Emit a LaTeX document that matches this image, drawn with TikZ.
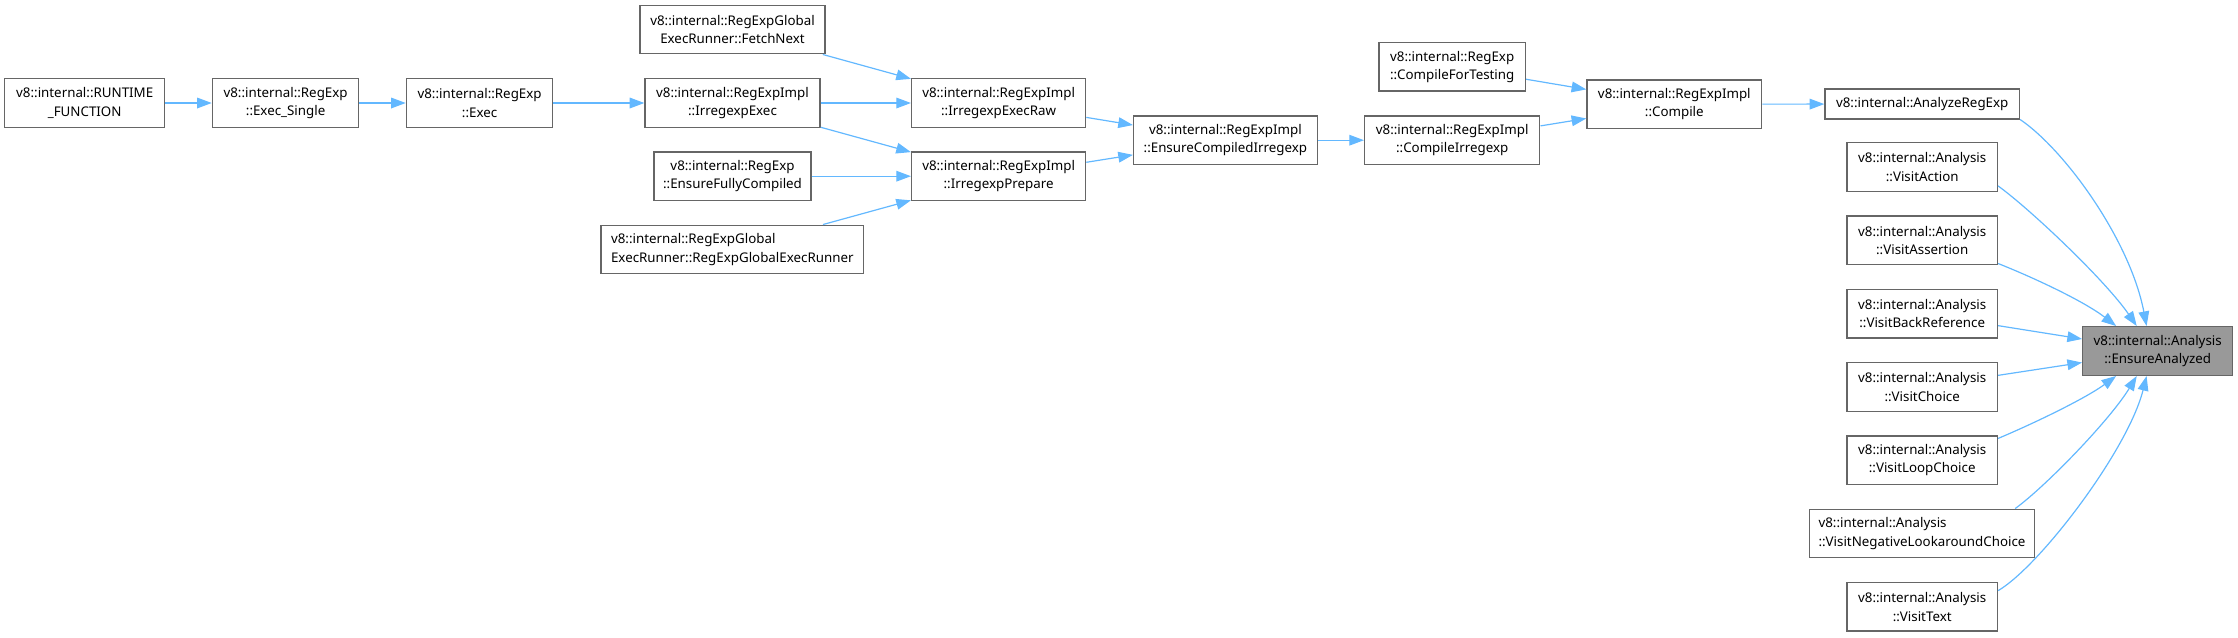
\documentclass[tikz,border=0pt]{standalone}
\usepackage{fontspec}
\setmainfont{Noto Sans}
\usepackage{xcolor}
\usetikzlibrary{arrows.meta}
\definecolor{edgeblue}{HTML}{63B8FF}
\definecolor{boxgray}{HTML}{666666}
\definecolor{curgray}{HTML}{999999}
\newlength\pxu
\setlength\pxu{0.75pt}

\begin{document}
\begin{tikzpicture}[x=0.75pt,y=-0.75pt,
    fn/.style={draw=boxgray, line width=1pt, fill=white, inner sep=0pt, align=center,
      minimum height=48.6\pxu, font=\fontsize{10}{13.9}\selectfont},
    cur/.style={fn, fill=curgray},
    call/.style={draw=edgeblue, line width=0.9pt, -{Triangle[length=11pt,width=8pt]}}]
  \useasboundingbox (0,0) rectangle (2238,637);
  % Callers on the left
  \node[fn, minimum width=160\pxu] (runtime) at (84.7,103) {v8::internal::RUNTIME\\\_FUNCTION};
  \node[fn, minimum width=146.4\pxu] (execsingle) at (285.6,103) {v8::internal::RegExp\\::Exec\_Single};
  \node[fn, minimum width=146.4\pxu] (exec) at (479.6,103) {v8::internal::RegExp\\::Exec};
  \node[fn, minimum width=184.7\pxu] (fetchnext) at (732.5,29.5) {v8::internal::RegExpGlobal\\ExecRunner::FetchNext};
  \node[fn, minimum width=175\pxu] (irrexec) at (732.5,103) {v8::internal::RegExpImpl\\::IrregexpExec};
  \node[fn, minimum width=157\pxu] (fullycomp) at (732.5,176.2) {v8::internal::RegExp\\::EnsureFullyCompiled};
  \node[fn, align=left, minimum width=262.7\pxu] (globalrunner) at (732.3,249.5) {v8::internal::RegExpGlobal\\ExecRunner::RegExpGlobalExecRunner};
  \node[fn, minimum width=174\pxu] (execraw) at (998.6,103) {v8::internal::RegExpImpl\\::IrregexpExecRaw};
  \node[fn, minimum width=174\pxu] (prepare) at (998.6,176.2) {v8::internal::RegExpImpl\\::IrregexpPrepare};
  \node[fn, minimum width=183.6\pxu] (compiledirr) at (1225.4,140.2) {v8::internal::RegExpImpl\\::EnsureCompiledIrregexp};
  \node[fn, minimum width=175.2\pxu] (compileirr) at (1452.2,140.2) {v8::internal::RegExpImpl\\::CompileIrregexp};
  \node[fn, minimum width=146.5\pxu] (fortesting) at (1452.2,66.8) {v8::internal::RegExp\\::CompileForTesting};
  \node[fn, minimum width=174.7\pxu] (compile) at (1674.3,104.2) {v8::internal::RegExpImpl\\::Compile};
  % Direct callers
  \node[fn, minimum width=194.5\pxu, minimum height=30\pxu] (analyze) at (1922.2,104) {v8::internal::AnalyzeRegExp};
  \node[fn, minimum width=150.4\pxu] (action) at (1922.2,167) {v8::internal::Analysis\\::VisitAction};
  \node[fn, minimum width=150.4\pxu] (assertion) at (1922.2,240.3) {v8::internal::Analysis\\::VisitAssertion};
  \node[fn, minimum width=150.4\pxu] (backref) at (1922.2,313.6) {v8::internal::Analysis\\::VisitBackReference};
  \node[fn, minimum width=150.4\pxu] (choice) at (1922.2,386.9) {v8::internal::Analysis\\::VisitChoice};
  \node[fn, minimum width=150.4\pxu] (loop) at (1922.2,460.2) {v8::internal::Analysis\\::VisitLoopChoice};
  \node[fn, align=left, minimum width=225\pxu] (negative) at (1922,533.5) {v8::internal::Analysis\\::VisitNegativeLookaroundChoice};
  \node[fn, minimum width=150.4\pxu] (text) at (1922.2,606.8) {v8::internal::Analysis\\::VisitText};
  % The function itself
  \node[cur, minimum width=150\pxu] (ensure) at (2157.7,351) {v8::internal::Analysis\\::EnsureAnalyzed};

  % Calls
  \draw[call] (runtime) -- (execsingle);
  \draw[call] (execsingle) -- (exec);
  \draw[call] (exec) -- (irrexec);
  \draw[call] (fetchnext) -- (execraw);
  \draw[call] (irrexec) -- (execraw);
  \draw[call] (irrexec) -- (prepare);
  \draw[call] (fullycomp) -- (prepare);
  \draw[call] (globalrunner) -- (prepare);
  \draw[call] (execraw) -- (compiledirr);
  \draw[call] (prepare) -- (compiledirr);
  \draw[call] (compiledirr) -- (compileirr);
  \draw[call] (compileirr) -- (compile);
  \draw[call] (fortesting) -- (compile);
  \draw[call] (compile) -- (analyze);
  \draw[call] (analyze.-9) .. controls (2065,150) and (2130,240) .. (ensure.114);
  \draw[call] (action.-14) .. controls (2030,209) and (2105,280) .. (ensure.130);
  \draw[call] (assertion.-17) .. controls (2037,279) and (2085,302) .. (ensure.149);
  \draw[call] (backref) -- (ensure);
  \draw[call] (choice) -- (ensure);
  \draw[call] (loop.16) .. controls (2037,422) and (2086,398) .. (ensure.211);
  \draw[call] (negative.15) .. controls (2045,487) and (2110,420) .. (ensure.230);
  \draw[call] (text.12) .. controls (2040,566) and (2128,450) .. (ensure.246);
\end{tikzpicture}
\end{document}
